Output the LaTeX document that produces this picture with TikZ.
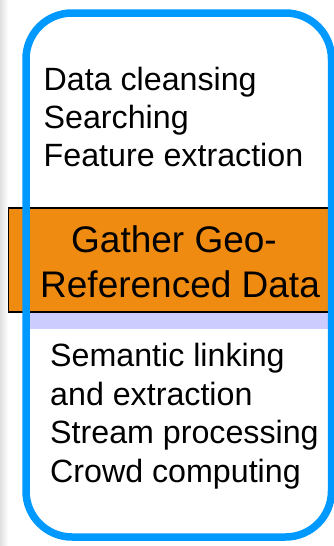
\documentclass[tikz,border=0pt]{standalone}
\usepackage{fontspec}
\setmainfont{Liberation Sans}
\definecolor{frameblue}{RGB}{0,153,255}
\definecolor{gatherorange}{RGB}{240,139,18}
\definecolor{lavender}{RGB}{204,204,255}
\begin{document}
\begin{tikzpicture}[x=1pt,y=-1pt,
  listtext/.style={anchor=base west,inner sep=0pt,font=\fontsize{32.2}{38}\selectfont},
  titletext/.style={anchor=base west,inner sep=0pt,font=\fontsize{37}{45}\selectfont},
  frame/.style={draw=frameblue,line width=7.5pt,rounded corners=46pt}]
  \clip (0,0) rectangle (334,546);
  \fill[white] (0,0) rectangle (334,546);
  % soft grey edge on the left
  \shade[left color=black!12,right color=white] (0,0) rectangle (8,546);

  % central step bar and the light band under it
  \fill[lavender] (26,312.5) rectangle (334,329);
  \filldraw[fill=gatherorange,draw=black,line width=1.3pt] (8.5,208) rectangle (350,312);
  \node[titletext] (g1) at (71,252) {Gather Geo-};
  \node[titletext] (g2) at (40,297) {Referenced Data};

  % rounded blue frame
  \draw[frame] (26,13) rectangle (331.5,537);

  % upper task list
  \node[listtext] (t1) at (43.5,90.5) {Data cleansing};
  \node[listtext] (t2) at (43.5,128) {Searching};
  \node[listtext] (t3) at (43.5,166) {Feature extraction};

  % lower task list
  \node[listtext] (b1) at (50,366) {Semantic linking};
  \node[listtext] (b2) at (50,405) {and extraction};
  \node[listtext] (b3) at (50,443.5) {Stream processing};
  \node[listtext] (b4) at (50,482) {Crowd computing};
\end{tikzpicture}
\end{document}
